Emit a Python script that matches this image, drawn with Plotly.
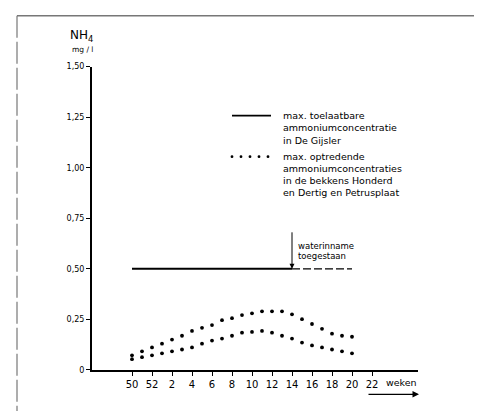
import plotly.graph_objects as go

# ---- data ----
weeks = [50, 51, 52, 1, 2, 3, 4, 5, 6, 7, 8, 9, 10, 11, 12, 13, 14, 15, 16, 17, 18, 19, 20]
upper = [0.072, 0.092, 0.111, 0.130, 0.150, 0.169, 0.193, 0.208, 0.222, 0.246, 0.256, 0.271,
         0.280, 0.290, 0.290, 0.290, 0.275, 0.251, 0.227, 0.203, 0.179, 0.169, 0.164]
lower = [0.053, 0.063, 0.072, 0.082, 0.092, 0.101, 0.111, 0.130, 0.145, 0.155, 0.169, 0.184,
         0.188, 0.193, 0.184, 0.169, 0.155, 0.135, 0.121, 0.111, 0.101, 0.092, 0.082]
limit_value = 0.5
limit_start_week = 50
limit_end_week = 14      # "waterinname toegestaan"
limit_dashed_end_week = 20
tick_weeks = [50, 52, 2, 4, 6, 8, 10, 12, 14, 16, 18, 20, 22]
y_ticks = [0, 0.25, 0.5, 0.75, 1.0, 1.25, 1.5]
y_ticktext = ["0", "0,25", "0,50", "0,75", "1,00", "1,25", "1,50"]
legend_solid_lines = ["max. toelaatbare", "ammoniumconcentratie", "in De Gijsler"]
legend_dotted_lines = ["max. optredende", "ammoniumconcentraties", "in de bekkens Honderd",
                       "en Dertig en Petrusplaat"]


def pos(week):
    # weeks 50..52 of the first year, then weeks 1.. of the next year
    return week - 50 if week >= 50 else week + 2


x = [pos(w) for w in weeks]
FONT = "DejaVu Sans"
W, H = 481, 416

fig = go.Figure()

# limit line (solid) and its dashed continuation
fig.add_trace(go.Scatter(x=[pos(limit_start_week), pos(limit_end_week)], y=[limit_value] * 2,
                         mode="lines", line=dict(color="black", width=2), showlegend=False,
                         hoverinfo="skip"))
fig.add_trace(go.Scatter(x=[pos(limit_end_week), pos(limit_dashed_end_week)], y=[limit_value] * 2,
                         mode="lines", line=dict(color="black", width=1.3, dash="8px,3px"),
                         showlegend=False, hoverinfo="skip"))
# dotted series
for s in (upper, lower):
    fig.add_trace(go.Scatter(x=x, y=s, mode="markers",
                             marker=dict(color="black", size=3.8), showlegend=False,
                             cliponaxis=False))


def px_x(p):
    return p / W


def px_y(p):
    return 1 - p / H


shapes = []
# page frame (scan border)
shapes.append(dict(type="line", xref="paper", yref="paper", x0=px_x(17), x1=px_x(474),
                   y0=px_y(12), y1=px_y(12), line=dict(color="#777", width=1.5)))
shapes.append(dict(type="line", xref="paper", yref="paper", x0=px_x(17), x1=px_x(17),
                   y0=px_y(12), y1=px_y(416), line=dict(color="#777", width=1.2, dash="22px,4px")))
# legend sample: solid line
shapes.append(dict(type="line", xref="paper", yref="paper", x0=px_x(232), x1=px_x(271),
                   y0=px_y(114), y1=px_y(114), line=dict(color="black", width=1.8)))
# legend sample: dots
for i in range(5):
    cx = 232 + i * 9
    shapes.append(dict(type="circle", xref="paper", yref="paper",
                       x0=px_x(cx - 1.4), x1=px_x(cx + 1.4), y0=px_y(156 - 1.4), y1=px_y(156 + 1.4),
                       fillcolor="black", line=dict(width=0)))

ann = []
ann.append(dict(xref="paper", yref="paper", x=px_x(68), y=px_y(33), xanchor="left", yanchor="middle",
                text="NH<sub>4</sub>", showarrow=False, font=dict(family=FONT, size=12, color="black")))
ann.append(dict(xref="paper", yref="paper", x=px_x(70), y=px_y(47), xanchor="left", yanchor="middle",
                text="mg / l", showarrow=False, font=dict(family=FONT, size=7.5, color="black")))
for i, t in enumerate(legend_solid_lines):
    ann.append(dict(xref="paper", yref="paper", x=px_x(281), y=px_y(114 + 12.7 * i),
                    xanchor="left", yanchor="middle", showarrow=False, text=t,
                    font=dict(family=FONT, size=9.5, color="black")))
for i, t in enumerate(legend_dotted_lines):
    ann.append(dict(xref="paper", yref="paper", x=px_x(281), y=px_y(155.5 + 12.5 * i),
                    xanchor="left", yanchor="middle", showarrow=False, text=t,
                    font=dict(family=FONT, size=9.5, color="black")))
# waterinname arrow + text
ann.append(dict(x=pos(limit_end_week), y=limit_value, xref="x", yref="y",
                ax=0, ay=-38, axref="pixel", ayref="pixel",
                showarrow=True, arrowhead=2, arrowsize=1, arrowwidth=1, arrowcolor="black", text=""))
ann.append(dict(xref="paper", yref="paper", x=px_x(296), y=px_y(247), xanchor="left", yanchor="middle",
                showarrow=False, text="waterinname", font=dict(family=FONT, size=8.5, color="black")))
ann.append(dict(xref="paper", yref="paper", x=px_x(296), y=px_y(258), xanchor="left", yanchor="middle",
                showarrow=False, text="toegestaan", font=dict(family=FONT, size=8.5, color="black")))
# weken label and arrow
ann.append(dict(xref="paper", yref="paper", x=px_x(401), y=px_y(387), xanchor="center", yanchor="middle",
                text="weken", showarrow=False, font=dict(family=FONT, size=9.5, color="black")))
ann.append(dict(xref="paper", yref="paper", x=px_x(419), y=px_y(399), ax=-52, ay=0,
                axref="pixel", ayref="pixel", showarrow=True, arrowhead=2, arrowsize=1,
                arrowwidth=1.3, arrowcolor="black", text=""))

fig.update_layout(
    width=W, height=H,
    margin=dict(l=0, r=0, t=0, b=0),
    paper_bgcolor="white", plot_bgcolor="white",
    font=dict(family=FONT, color="black"),
    showlegend=False,
    shapes=shapes, annotations=ann,
    xaxis=dict(domain=[92 / W, 418 / W], range=[-4, 28.6], showgrid=False, zeroline=False,
               showline=True, linecolor="black", linewidth=2,
               tickmode="array", tickvals=[pos(w) for w in tick_weeks],
               ticktext=[str(w) for w in tick_weeks],
               ticks="outside", ticklen=4, tickwidth=1, tickcolor="black",
               tickfont=dict(family=FONT, size=10, color="black")),
    yaxis=dict(domain=[(H - 374) / H, (H - 64) / H], range=[0, 1.5], showgrid=False, zeroline=False,
               showline=True, linecolor="black", linewidth=2,
               tickmode="array", tickvals=y_ticks, ticktext=y_ticktext,
               ticks="outside", ticklen=4, tickwidth=1, tickcolor="black",
               tickfont=dict(family=FONT, size=8, color="black")),
)

fig.write_html("out.html", config={"displayModeBar": False},
               post_script="document.body.style.margin='0';")
